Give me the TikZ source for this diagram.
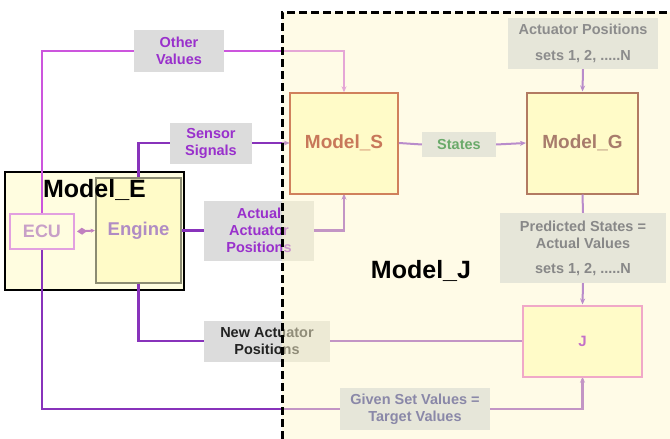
\documentclass[tikz,border=0pt]{standalone}
\usepackage{fontspec}
\setmainfont{Liberation Sans}
\usetikzlibrary{arrows.meta}
\definecolor{wirep}{HTML}{8833BB}
\definecolor{wirem}{HTML}{CC55DD}
\definecolor{wirein}{HTML}{B98CCB}
\definecolor{lblgray}{HTML}{DCDCDC}
\definecolor{lblin}{HTML}{E6E6D9}
\definecolor{purtxt}{HTML}{9930CC}
\definecolor{boxfill}{HTML}{FFFBC8}
\definecolor{efill}{HTML}{FFFDE0}
\definecolor{regionfill}{HTML}{FFF8D0}
\begin{document}
\begin{tikzpicture}[x=1pt,y=-1pt,
  wire/.style={draw=wirep,line width=2.4},
  wireo/.style={draw=wirem,line width=2},
  wirei/.style={draw=wirein,line width=2},
  arr/.style={-{Stealth[length=6,width=5]}},
  lbl/.style={fill=lblgray,inner sep=0pt,align=center,text=purtxt,
    font=\bfseries\fontsize{14.5}{17}\selectfont},
  lblin/.style={lbl,fill=lblin},
  bigtxt/.style={font=\bfseries\fontsize{24}{24}\selectfont,text=black},
  mbox/.style={fill=boxfill,line width=2,inner sep=0pt,
    font=\bfseries\fontsize{19}{19}\selectfont}]
\useasboundingbox (0,0) rectangle (670,439);
\fill[white] (0,0) rectangle (670,439);

% Model_E frame
\node[draw=black,line width=2.6,fill=efill,minimum width=179pt,minimum height=118pt] (modelE) at (94.5,231) {};

% anchor nodes
\path (138.5,230.5) node[minimum width=85pt,minimum height=105pt] (engine) {};
\path (42,231.5) node[minimum width=64pt,minimum height=35pt] (ecu) {};

% labels (left)
\node[lbl,minimum width=90pt,minimum height=42pt] (other) at (179,51) {Other\\Values};
\node[lbl,minimum width=82pt,minimum height=41pt] (sensor) at (211,143) {Sensor\\Signals};
\node[lbl,minimum width=110pt,minimum height=60pt] (actual) at (259,230.5) {Actual\\Actuator\\Positions};
\node[lbl,minimum width=126pt,minimum height=41pt,text={rgb,255:red,34;green,34;blue,34}] (newact) at (267,341) {New Actuator\\Positions};

% boxes inside Model_J (named here, drawn later)
\path (344,143) node[minimum width=108pt,minimum height=101pt] (modelS) {};
\path (582.5,143) node[minimum width=111pt,minimum height=101pt] (modelG) {};
\path (582.5,341) node[minimum width=119pt,minimum height=71pt] (J) {};
\path (415,409) node[minimum width=150pt,minimum height=42pt] (given) {};

% wires
\draw[wireo] (ecu.north) |- (other.west);
\draw[wireo,arr] (other.east) -| (modelS.north);
\draw[wire] (engine.north) |- (sensor.west);
\draw[wire,arr] (sensor.east) -- (modelS.west);
\draw[wire] (engine.east) -- (actual.west);
\draw[wire,arr] (actual.east) -| (modelS.south);
\draw[wire] (J.west) -- (newact.east);
\draw[wire] (newact.west) -| (engine.south);
\draw[wire] (ecu.south) |- (given.west);
\draw[wire,arr] (given.east) -| (J.south);

% engine and ECU over wires
\node[draw={rgb,255:red,140;green,140;blue,114},line width=2.4,fill=boxfill,minimum width=85pt,minimum height=105pt,
  font=\bfseries\fontsize{18.5}{18.5}\selectfont,text={rgb,255:red,176;green,140;blue,196}] (engineB) at (138.5,230.5) {Engine};
\node[draw={rgb,255:red,226;green,160;blue,224},line width=2,fill=efill,minimum width=64pt,minimum height=35pt,
  font=\bfseries\fontsize{18}{18}\selectfont,text={rgb,255:red,200;green,160;blue,200}] (ecuB) at (42,231.5) {ECU};
\draw[draw={rgb,255:red,192;green,128;blue,192},line width=2,
  {Diamond[length=10,width=7]}-{Stealth[length=4,width=4]}] ([xshift=2pt]ecuB.east) -- (engineB.west);
\node[bigtxt,font=\bfseries\fontsize{25}{25}\selectfont] (modelEt) at (94.5,190) {Model\_E};

% Model_J region overlay
\fill[regionfill,opacity=0.5] (282,12) rectangle (670,439);
\draw[black,line width=3,dash pattern=on 8pt off 4pt] (282,439) -- (282,12) -- (670,12);

% inside boxes
\node[mbox,draw={rgb,255:red,208;green,128;blue,92},text={rgb,255:red,200;green,120;blue,90},
  minimum width=108pt,minimum height=101pt] (modelSB) at (344,143) {Model\_S};
\node[mbox,draw={rgb,255:red,178;green,122;blue,98},text={rgb,255:red,168;green,124;blue,108},
  minimum width=111pt,minimum height=101pt] (modelGB) at (582.5,143) {Model\_G};
\node[mbox,draw={rgb,255:red,240;green,168;blue,200},text={rgb,255:red,196;green,112;blue,200},
  font=\bfseries\fontsize{15}{15}\selectfont,minimum width=119pt,minimum height=71pt] (JB) at (582.5,341) {J};

% inside labels
\node[lblin,minimum width=74pt,minimum height=25pt,text={rgb,255:red,106;green,170;blue,106}] (states) at (459,144.5) {States};
\node[lblin,minimum width=150pt,minimum height=51pt,text={rgb,255:red,140;green,140;blue,140}] (actpos) at (583,43.5)
  {Actuator Positions\\[9pt]sets 1, 2, .....N};
\node[lblin,minimum width=166pt,minimum height=70pt,text={rgb,255:red,136;green,136;blue,136}] (pred) at (583,248)
  {Predicted States =\\Actual Values\\[8pt]sets 1, 2, .....N};
\node[lblin,minimum width=150pt,minimum height=42pt,text={rgb,255:red,138;green,136;blue,168}] (givenB) at (415,409)
  {Given Set Values =\\Target Values};

% inside wires
\draw[wirei] (modelSB.east) -- (states.west);
\draw[wirei,arr] (states.east) -- (modelGB.west);
\draw[wirei,arr] (actpos.south) -- (modelGB.north);
\draw[wirei] (modelGB.south) -- (pred.north);
\draw[wirei,arr] (pred.south) -- (JB.north);

\node[bigtxt,font=\bfseries\fontsize{25}{25}\selectfont] (modelJt) at (421,271) {Model\_J};
\end{tikzpicture}
\end{document}
